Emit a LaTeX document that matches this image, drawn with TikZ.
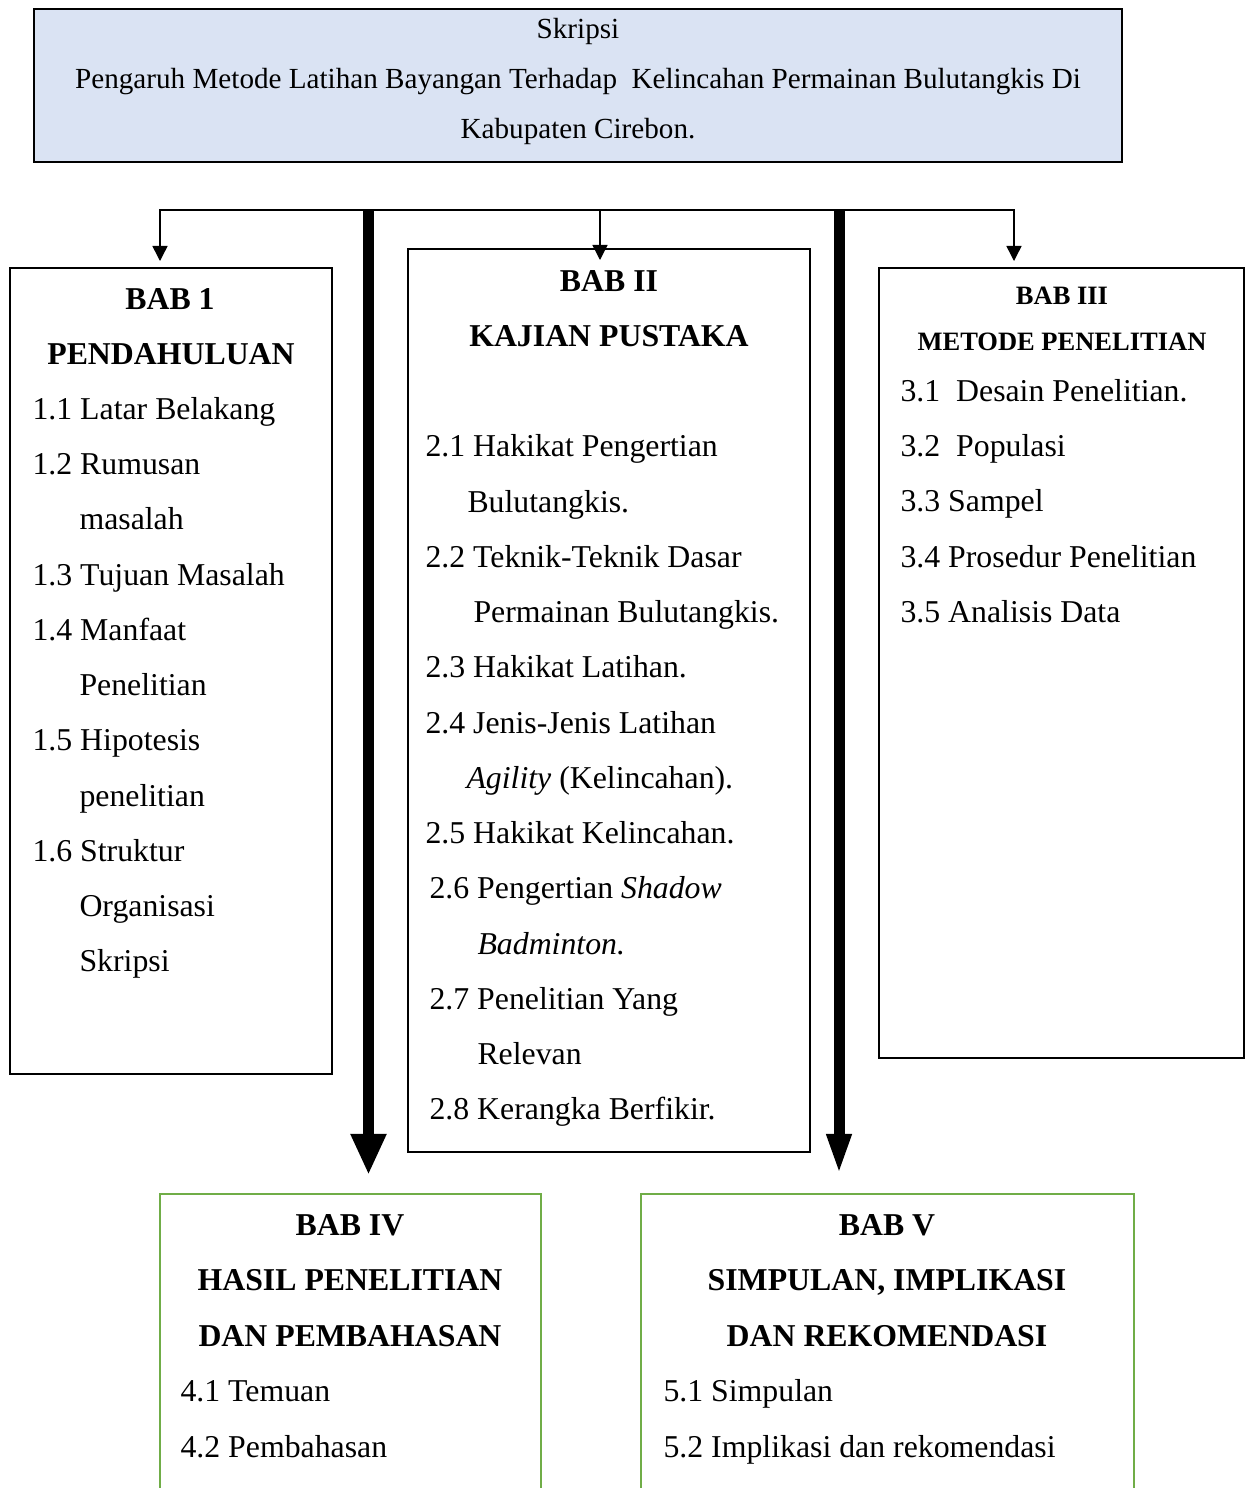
\documentclass[tikz,border=0pt]{standalone}
\usepackage{fontspec}
\setmainfont{Liberation Serif}
\usepackage{tikz}
\usetikzlibrary{arrows.meta,fit}
\definecolor{TitleBlue}{HTML}{DAE3F3}
\definecolor{FrameGreen}{HTML}{70AD47}
\tikzset{smalltip/.tip={Triangle[length=5.7pt,width=5.7pt]}}

\begin{document}
\begin{tikzpicture}[x=0.3774pt,y=-0.3774pt,
	babbox/.style={draw=black,line width=0.75pt,inner sep=0pt},
	greenbox/.style={draw=FrameGreen,line width=0.95pt,inner sep=0pt},
	judultext/.style={anchor=base,inner sep=0pt,font=\fontsize{11}{13}\selectfont},
	item/.style={anchor=base west,inner sep=0pt,font=\fontsize{12}{14}\selectfont},
	head/.style={anchor=base,inner sep=0pt,font=\fontsize{12}{14}\selectfont\bfseries},
	smallhead/.style={anchor=base,inner sep=0pt,font=\fontsize{10}{12}\selectfont\bfseries},
	thinline/.style={line width=0.55pt},
	thickarrow/.style={line width=4.15pt,-{Triangle[length=15.5pt,width=#1]}}]
				\useasboundingbox (0,0) rectangle (1253,1488);
				\clip (0,0) rectangle (1253,1488);
				% judul
				\node[babbox,fill=TitleBlue,fit={(34,9) (1122,162)}] (judul) {};
				\node[judultext] (j1) at (578,38) {Skripsi};
				\node[judultext] (j2) at (578,88) {Pengaruh Metode Latihan Bayangan Terhadap~ Kelincahan Permainan Bulutangkis Di};
				\node[judultext] (j3) at (578,138) {Kabupaten Cirebon.};
				% kotak bab
				\node[babbox,fit={(10,268) (332,1074)}] (bab1) {};
				\node[babbox,fit={(408,249) (810,1152)}] (bab2) {};
				\node[babbox,fit={(879,268) (1244,1058)}] (bab3) {};
				\node[greenbox,fit={(160,1194) (541,1510)}] (bab4) {};
				\node[greenbox,fit={(641,1194) (1134,1510)}] (bab5) {};
				% judul bab
				\foreach \xx/\yy/\txt [count=\i] in {170/309/BAB 1,171/364/PENDAHULUAN,
					609/291/BAB II,609/346/KAJIAN PUSTAKA,
					350/1235/BAB IV,350/1290/HASIL PENELITIAN,350/1346/DAN PEMBAHASAN,
					887/1235/BAB V,887/1290/{SIMPULAN, IMPLIKASI},887/1346/DAN REKOMENDASI}
					\node[head] (h-\i) at (\xx,\yy) {\txt};
				\node[smallhead] (h3a) at (1062,304) {BAB III};
				\node[smallhead] (h3b) at (1062,350) {METODE PENELITIAN};
				% BAB 1
				\foreach \xx/\yy/\txt [count=\i] in {32/419/1.1 Latar Belakang,32/474/1.2 Rumusan,
					79/529/masalah,32/585/1.3 Tujuan Masalah,32/640/1.4 Manfaat,79/695/Penelitian,
					32/750/1.5 Hipotesis,79/806/penelitian,32/861/1.6 Struktur,79/916/Organisasi,
					79/971/Skripsi}
					\node[item] (b1-\i) at (\xx,\yy) {\txt};
				% BAB II
				\foreach \xx/\yy/\txt [count=\i] in {425/456/2.1 Hakikat Pengertian,467/512/Bulutangkis.,
					425/567/2.2 Teknik-Teknik Dasar,473/622/Permainan Bulutangkis.,
					425/677/2.3 Hakikat Latihan.,425/733/2.4 Jenis-Jenis Latihan,
					466/788/{\textit{Agility} (Kelincahan).},425/843/2.5 Hakikat Kelincahan.,
					429/898/{2.6 Pengertian \textit{Shadow}},477/954/{\textit{Badminton.}},
					429/1009/2.7 Penelitian Yang,477/1064/Relevan,429/1119/2.8 Kerangka Berfikir.}
					\node[item] (b2-\i) at (\xx,\yy) {\txt};
				% BAB III
				\foreach \yy/\txt [count=\i] in {401/{3.1\ \ Desain Penelitian.},456/{3.2\ \ Populasi},
					511/3.3 Sampel,567/3.4 Prosedur Penelitian,622/3.5 Analisis Data}
					\node[item] (b3-\i) at (900,\yy) {\txt};
				% BAB IV dan BAB V
				\node[item] (b4-1) at (180,1401) {4.1 Temuan};
				\node[item] (b4-2) at (180,1457) {4.2 Pembahasan};
				\node[item] (b5-1) at (663,1401) {5.1 Simpulan};
				\node[item] (b5-2) at (663,1457) {5.2 Implikasi dan rekomendasi};
				% garis cabang
				\coordinate (cabKiri) at (160,210);
				\coordinate (cabTengah) at (600,210);
				\coordinate (cabKanan) at (1014,210);
				\coordinate (ujungKiri) at (160,261);
				\coordinate (ujungTengah) at (600,260);
				\coordinate (ujungKanan) at (1014,261);
				\draw[thinline,smalltip-smalltip] (ujungKiri) -- (cabKiri) -- (cabKanan) -- (ujungKanan);
				\draw[thinline,-smalltip] (cabTengah) -- (ujungTengah);
				% panah tebal ke BAB IV dan BAB V
				\coordinate (tebalKiri) at (368.5,210);
				\coordinate (tebalKanan) at (839,210);
				\coordinate (tipKiri) at (368.5,1175);
				\coordinate (tipKanan) at (839,1175);
				\draw[thickarrow=12.5pt] (tebalKiri) -- (tipKiri);
				\draw[thickarrow=8.5pt] (tebalKanan) -- (tipKanan);
			\end{tikzpicture}
\end{document}
